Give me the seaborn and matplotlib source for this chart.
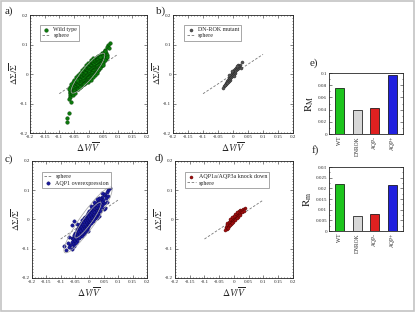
import numpy as np
import pandas as pd
import seaborn as sns
import matplotlib.pyplot as plt
from matplotlib.patches import Ellipse, Rectangle
from matplotlib.ticker import MultipleLocator

# ---- data ----
wt_dv = [0.052, 0.045, 0.054, 0.038, 0.047, 0.056, 0.033, 0.041, 0.050,
         0.028, 0.036, 0.044, 0.052, 0.024, 0.031, 0.039, 0.047, 0.055,
         0.019, 0.027, 0.034, 0.041, 0.049, 0.015, 0.022, 0.030, 0.037, 0.044, 0.051,
         0.010, 0.018, 0.025, 0.033, 0.040, 0.047, 0.006, 0.013, 0.021, 0.028, 0.035, 0.043,
         0.002, 0.010, 0.017, 0.024, 0.031, 0.038, 0.045,
         -0.002, 0.006, 0.013, 0.020, 0.027, 0.034, 0.041,
         -0.006, 0.002, 0.009, 0.016, 0.023, 0.030, 0.037,
         -0.010, -0.002, 0.005, 0.012, 0.019, 0.026, 0.033,
         -0.013, -0.005, 0.002, 0.009, 0.016, 0.023, 0.030,
         -0.016, -0.008, -0.001, 0.006, 0.013, 0.020, 0.027,
         -0.020, -0.012, -0.004, 0.003, 0.010, 0.017, 0.024,
         -0.023, -0.015, -0.007, 0.000, 0.007, 0.014, 0.021,
         -0.026, -0.018, -0.011, -0.003, 0.004, 0.011, 0.018,
         -0.029, -0.021, -0.014, -0.006, 0.001, 0.008, 0.015,
         -0.032, -0.024, -0.017, -0.009, -0.002, 0.005, 0.012,
         -0.035, -0.027, -0.020, -0.012, -0.005, 0.002, 0.009,
         -0.038, -0.030, -0.023, -0.015, -0.008, -0.001, 0.006,
         -0.041, -0.033, -0.026, -0.018, -0.011, -0.004, 0.003,
         -0.044, -0.036, -0.029, -0.021, -0.014, -0.007,
         -0.047, -0.039, -0.032, -0.024, -0.017, -0.010,
         -0.050, -0.042, -0.035, -0.027, -0.020, -0.013,
         -0.052, -0.045, -0.038, -0.030, -0.023,
         -0.055, -0.048, -0.041, -0.033, -0.026,
         -0.057, -0.050, -0.043, -0.036, -0.029,
         -0.059, -0.052, -0.045, -0.038,
         -0.061, -0.054, -0.047, -0.040,
         -0.062, -0.055, -0.048, -0.063, -0.056, -0.049,
         -0.064, -0.057, -0.064, -0.058, -0.062,
         0.074, 0.068, 0.063, 0.070, 0.058, 0.060, 0.062, 0.057, -0.052, -0.068,
         -0.060, -0.067, -0.073, -0.074, -0.045, 0.050, 0.040, -0.035,
         # cloud edges
         0.017, 0.060, 0.008, 0.057, -0.001, 0.050, -0.009, 0.048, -0.017, 0.040,
         -0.023, 0.034, -0.030, 0.028, -0.036, 0.022, -0.042, 0.016, -0.048, 0.010,
         -0.054, -0.003, -0.059, -0.016, -0.064, -0.030, 0.062, -0.068, 0.031, -0.040]
wt_ds = [0.074, 0.070, 0.069, 0.066, 0.067, 0.064, 0.061, 0.063, 0.060,
         0.058, 0.056, 0.059, 0.057, 0.053, 0.055, 0.052, 0.054, 0.051,
         0.050, 0.048, 0.051, 0.049, 0.047, 0.046, 0.044, 0.047, 0.045, 0.043, 0.046,
         0.041, 0.043, 0.040, 0.042, 0.039, 0.041, 0.037, 0.039, 0.036, 0.038, 0.035, 0.037,
         0.034, 0.032, 0.035, 0.033, 0.031, 0.034, 0.032,
         0.029, 0.031, 0.028, 0.030, 0.027, 0.029, 0.028,
         0.026, 0.024, 0.027, 0.025, 0.023, 0.026, 0.024,
         0.021, 0.023, 0.020, 0.022, 0.019, 0.021, 0.020,
         0.018, 0.016, 0.019, 0.017, 0.015, 0.018, 0.016,
         0.013, 0.015, 0.012, 0.014, 0.011, 0.013, 0.012,
         0.010, 0.008, 0.011, 0.009, 0.007, 0.010, 0.008,
         0.005, 0.007, 0.004, 0.006, 0.003, 0.005, 0.004,
         0.002, 0.000, 0.003, 0.001, -0.001, 0.002, 0.000,
         -0.003, -0.001, -0.004, -0.002, -0.005, -0.003, -0.004,
         -0.006, -0.008, -0.005, -0.007, -0.009, -0.006, -0.008,
         -0.011, -0.009, -0.012, -0.010, -0.013, -0.011, -0.012,
         -0.014, -0.016, -0.013, -0.015, -0.017, -0.014, -0.016,
         -0.019, -0.017, -0.020, -0.018, -0.021, -0.019, -0.020,
         -0.022, -0.024, -0.021, -0.023, -0.025, -0.022,
         -0.027, -0.025, -0.028, -0.026, -0.029, -0.027,
         -0.030, -0.032, -0.029, -0.031, -0.033, -0.030,
         -0.035, -0.033, -0.036, -0.034, -0.037,
         -0.038, -0.040, -0.037, -0.039, -0.041,
         -0.043, -0.041, -0.044, -0.042, -0.045,
         -0.046, -0.048, -0.045, -0.047,
         -0.051, -0.049, -0.052, -0.050,
         -0.055, -0.057, -0.054, -0.060, -0.062, -0.059,
         -0.066, -0.064, -0.071, -0.069, -0.077,
         0.105, 0.098, 0.092, 0.088, 0.082, 0.072, 0.066, 0.078, -0.072, -0.085,
         -0.095, -0.132, -0.150, -0.163, -0.065, 0.062, 0.058, -0.052,
         # cloud edges
         0.055, 0.055, 0.046, 0.046, 0.037, 0.037, 0.029, 0.029, 0.021, 0.021,
         0.013, 0.013, 0.005, 0.005, -0.003, -0.003, -0.011, -0.011, -0.019, -0.019,
         -0.027, -0.027, -0.035, -0.035, -0.045, -0.045, 0.058, -0.050, 0.012, -0.020]

dn_dv = [0.030, 0.022, 0.018, 0.015, 0.020, 0.012, 0.016, 0.009, 0.013, 0.006,
         0.010, 0.003, 0.008, 0.000, 0.005, -0.002, 0.002, -0.005, -0.001, -0.008,
         -0.004, -0.010, -0.006, -0.013, -0.009, -0.015, -0.011, -0.018, -0.014, -0.020,
         -0.016, -0.022, -0.025, -0.019, -0.028, -0.031, -0.026, -0.035, 0.025, 0.012,
         -0.004, 0.002, -0.012]
dn_ds = [0.040, 0.032, 0.030, 0.027, 0.025, 0.024, 0.021, 0.020, 0.017, 0.016,
         0.013, 0.012, 0.009, 0.008, 0.005, 0.004, 0.001, 0.000, -0.003, -0.004,
         -0.007, -0.009, -0.011, -0.012, -0.015, -0.017, -0.019, -0.020, -0.023, -0.025,
         -0.027, -0.029, -0.033, -0.031, -0.036, -0.040, -0.038, -0.046, 0.020, 0.028,
         0.010, -0.008, -0.004]

aqp_dv = [0.071, 0.066, 0.060, 0.055, 0.063, 0.050, 0.045, 0.056, 0.040, 0.048,
          0.035, 0.052, 0.030, 0.042, 0.037, 0.025, 0.045, 0.032, 0.020, 0.028,
          0.040, 0.015, 0.024, 0.035, 0.010, 0.018, 0.030, 0.005, 0.022, 0.012,
          0.038, 0.000, 0.016, 0.026, 0.007, -0.004, 0.020, 0.011, 0.001, 0.030,
          -0.010, 0.014, 0.005, -0.005, 0.022, -0.014, 0.008, -0.002, -0.011, 0.017,
          -0.020, 0.003, -0.007, -0.016, 0.011, -0.025, -0.003, -0.012, -0.021, 0.006,
          -0.030, -0.008, -0.017, -0.026, 0.000, -0.035, -0.013, -0.022, -0.031, -0.005,
          -0.040, -0.018, -0.027, -0.036, -0.010, -0.045, -0.023, -0.032, -0.041, -0.015,
          -0.050, -0.028, -0.037, -0.046, -0.020, -0.055, -0.033, -0.042, -0.051, -0.025,
          -0.060, -0.038, -0.047, -0.056, -0.043, -0.052, -0.062, -0.048, -0.058, -0.066,
          -0.054, -0.072, -0.090, -0.082, -0.062, -0.060, -0.055, -0.045, 0.025, 0.050,
          0.035, -0.070, 0.060, 0.055, -0.035, -0.025, 0.015, 0.005, -0.075, 0.045,
          -0.005, 0.028]
aqp_ds = [0.108, 0.101, 0.093, 0.085, 0.080, 0.088, 0.078, 0.072, 0.070, 0.066,
          0.074, 0.058, 0.062, 0.060, 0.055, 0.058, 0.050, 0.048, 0.052, 0.042,
          0.044, 0.046, 0.038, 0.036, 0.040, 0.034, 0.030, 0.034, 0.028, 0.030,
          0.028, 0.028, 0.024, 0.022, 0.022, 0.022, 0.016, 0.016, 0.016, 0.018,
          0.016, 0.010, 0.010, 0.008, 0.008, 0.008, 0.004, 0.002, 0.001, 0.000,
          0.004, -0.004, -0.005, -0.004, -0.006, -0.003, -0.011, -0.012, -0.010, -0.013,
          -0.012, -0.018, -0.019, -0.018, -0.020, -0.020, -0.025, -0.026, -0.026, -0.027,
          -0.028, -0.032, -0.034, -0.034, -0.034, -0.036, -0.040, -0.041, -0.042, -0.042,
          -0.045, -0.048, -0.049, -0.050, -0.050, -0.054, -0.056, -0.057, -0.059, -0.058,
          -0.063, -0.064, -0.066, -0.068, -0.073, -0.075, -0.076, -0.082, -0.084, -0.088,
          -0.092, -0.095, -0.092, -0.103, -0.100, -0.020, -0.005, -0.015, 0.070, 0.035,
          0.012, -0.060, 0.060, 0.040, -0.060, -0.045, 0.060, 0.045, -0.080, 0.092,
          -0.040, 0.005]

kd_dv = [0.037, 0.030, 0.026, 0.022, 0.024, 0.018, 0.020, 0.014, 0.016, 0.010,
         0.012, 0.006, 0.008, 0.002, 0.004, -0.002, 0.000, -0.006, -0.004, -0.010,
         -0.008, -0.014, -0.012, -0.018, -0.016, -0.022, -0.020, -0.024, -0.018, -0.026,
         -0.022, -0.028, -0.025, -0.030, 0.015, 0.009, 0.003, -0.003, -0.009, -0.015,
         0.005, -0.001, -0.007, -0.013, 0.028, 0.033, -0.020, 0.020, 0.010, -0.005]
kd_ds = [0.039, 0.035, 0.031, 0.033, 0.026, 0.028, 0.022, 0.024, 0.018, 0.020,
         0.014, 0.016, 0.010, 0.012, 0.006, 0.008, 0.002, 0.004, -0.002, 0.000,
         -0.006, -0.004, -0.010, -0.008, -0.014, -0.012, -0.018, -0.020, -0.023, -0.025,
         -0.028, -0.030, -0.033, -0.036, 0.010, 0.004, -0.003, -0.009, -0.015, -0.020,
         0.018, 0.013, 0.008, 0.002, 0.025, 0.030, -0.030, 0.015, 0.025, -0.012]

sphere_dv = [-0.1, 0.1]
sphere_ds = [-0.0667, 0.0667]

groups = ["WT", "DNROK", "AQP-", "AQP+"]
r_big = [0.076, 0.039, 0.043, 0.096]
r_small = [0.0221, 0.0072, 0.0079, 0.0218]
bar_colors = ["#00e000", "#d8d8d8", "#ff0000", "#0000ff"]

# ---- style ----
sns.set_style("ticks")
plt.rcParams["font.family"] = ["Liberation Serif", "DejaVu Serif"]
plt.rcParams["mathtext.fontset"] = "stix"

fig = plt.figure(figsize=(4.15, 3.12), dpi=100)
fig.add_artist(Rectangle((0.002, 0.003), 0.996, 0.994, transform=fig.transFigure,
                         fill=False, edgecolor="#c4c4c4", lw=1.2))


def frame(ax, xmaj, ymaj, xmin, ymin):
    ax.xaxis.set_major_locator(MultipleLocator(xmaj))
    ax.yaxis.set_major_locator(MultipleLocator(ymaj))
    ax.xaxis.set_minor_locator(MultipleLocator(xmin))
    ax.yaxis.set_minor_locator(MultipleLocator(ymin))
    ax.tick_params(which="both", direction="in", top=True, right=True,
                   width=0.4, labelsize=3.6, pad=1.5)
    ax.tick_params(which="major", length=2)
    ax.tick_params(which="minor", length=1)
    for s in ax.spines.values():
        s.set_linewidth(0.6)


def fmt(v):
    return "0" if abs(v) < 1e-9 else ("%g" % v)


def cov_ellipse(ax, x, y, nstd):
    cov = np.cov(x, y)
    vals, vecs = np.linalg.eigh(cov)
    ang = np.degrees(np.arctan2(vecs[1, 1], vecs[0, 1]))
    w, h = 2 * nstd * np.sqrt(vals[1]), 2 * nstd * np.sqrt(vals[0])
    ax.add_patch(Ellipse((np.mean(x), np.mean(y)), w, h, angle=ang, fill=False,
                         edgecolor="#a8a8a8", lw=0.55, zorder=5))


def scatter_panel(rect, dv, ds, color, edge, label, sphere_first, legx, legy,
                  ellipses, size):
    ax = fig.add_axes(rect)
    pts = pd.DataFrame({"dv": dv, "ds": ds})
    sph = pd.DataFrame({"dv": sphere_dv, "ds": sphere_ds})
    if sphere_first:
        sns.lineplot(data=sph, x="dv", y="ds", ax=ax, color="#777777", lw=0.6,
                     linestyle=(0, (3, 2)), label="sphere")
    sns.scatterplot(data=pts, x="dv", y="ds", ax=ax, s=size, color=color,
                    edgecolor=edge, linewidth=0.25, label=label, zorder=3)
    if not sphere_first:
        sns.lineplot(data=sph, x="dv", y="ds", ax=ax, color="#777777", lw=0.6,
                     linestyle=(0, (3, 2)), label="sphere")
    for n in ellipses:
        cov_ellipse(ax, dv, ds, n)
    ax.set_xlim(-0.2, 0.2)
    ax.set_ylim(-0.2, 0.2)
    frame(ax, 0.05, 0.1, 0.01, 0.01)
    ax.set_xticks(np.arange(-0.2, 0.201, 0.05))
    ax.set_xticklabels([fmt(round(v, 2)) for v in np.arange(-0.2, 0.201, 0.05)])
    ax.set_yticks(np.arange(-0.2, 0.201, 0.1))
    ax.set_yticklabels([fmt(round(v, 1)) for v in np.arange(-0.2, 0.201, 0.1)])
    ax.set_xlabel(r"$\Delta V/\overline{V}$", fontsize=7, labelpad=1)
    ax.set_ylabel(r"$\Delta\Sigma/\overline{\Sigma}$", fontsize=6.5, labelpad=0)
    leg = ax.legend(loc="upper left", bbox_to_anchor=(legx, legy), fontsize=4.3,
                    frameon=True, fancybox=False, edgecolor="#666666",
                    handlelength=1.4, handletextpad=0.5, borderpad=0.35,
                    labelspacing=0.15, markerscale=1.0)
    leg.get_frame().set_linewidth(0.5)
    return ax


scatter_panel([0.0723, 0.5737, 0.282, 0.378], wt_dv, wt_ds, "#0b7a0b", "#003300",
              "Wild type", False, 0.06, 0.94, [1.6], 7)
scatter_panel([0.417, 0.5737, 0.289, 0.378], dn_dv, dn_ds, "#555555", "#222222",
              "DN-ROK mutant", False, 0.07, 0.94, [], 5)
scatter_panel([0.077, 0.109, 0.277, 0.375], aqp_dv, aqp_ds, "#1a1a9a", "#000055",
              "AQP1 overexpression", True, 0.06, 0.93, [1.2, 2.2], 6)
scatter_panel([0.4217, 0.109, 0.284, 0.375], kd_dv, kd_ds, "#a01010", "#4a0000",
              "AQP1a/AQP3a knock down", False, 0.06, 0.93, [], 5)


def bar_panel(rect, vals, top, major, minor, ylabel):
    ax = fig.add_axes(rect)
    df = pd.DataFrame({"group": groups, "val": vals})
    sns.barplot(data=df, x="group", y="val", hue="group", palette=bar_colors,
                ax=ax, width=0.5, edgecolor="black", linewidth=0.5, legend=False)
    ax.set_ylim(0, top)
    ax.set_xlim(-0.6, 3.6)
    frame(ax, 1, major, 1, minor)
    ax.set_xticks(range(4))
    ax.set_xticklabels(groups, rotation=90, fontsize=4)
    ax.tick_params(axis="x", which="both", length=0, top=False)
    ax.set_yticks(np.arange(0, top + 1e-9, major))
    ax.set_yticklabels([fmt(round(v, 3)) for v in np.arange(0, top + 1e-9, major)])
    ax.set_xlabel("")
    ax.set_ylabel(ylabel, fontsize=8, labelpad=1)
    return ax


bar_panel([0.793, 0.5705, 0.178, 0.1955], r_big, 0.1, 0.02, 0.01, r"$\mathrm{R_M}$")
bar_panel([0.793, 0.2596, 0.178, 0.205], r_small, 0.03, 0.005, 0.0025, r"$\mathrm{R_m}$")

for txt, x, y in [("a)", 0.012, 0.955), ("b)", 0.375, 0.955), ("c)", 0.012, 0.48),
                  ("d)", 0.373, 0.485), ("e)", 0.745, 0.79), ("f)", 0.750, 0.51)]:
    fig.text(x, y, txt, fontsize=8)

fig.savefig("out.png", dpi=100)
